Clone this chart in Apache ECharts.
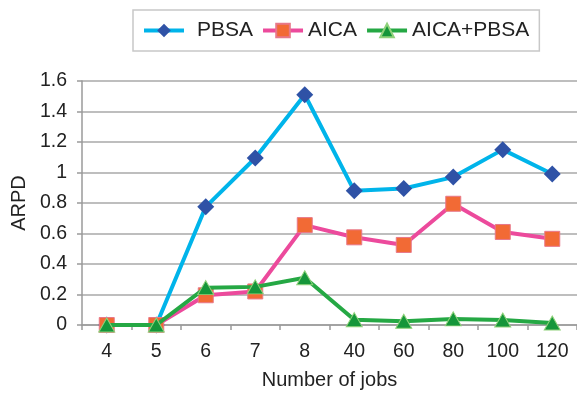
<!DOCTYPE html>
<html>
<head>
<meta charset="utf-8">
<script src="https://cdn.jsdelivr.net/npm/echarts@6/dist/echarts.min.js"></script>
<style>
  html, body { margin: 0; padding: 0; background: #fff; }
  #chart { width: 577px; height: 395px; }
</style>
</head>
<body>
<div id="chart"></div>
<script>
// Number of jobs on the category axis
const jobs = ['4', '5', '6', '7', '8', '40', '60', '80', '100', '120'];

// ARPD per algorithm
const pbsa = [0, 0, 0.775, 1.095, 1.51, 0.88, 0.895, 0.97, 1.15, 0.99];
const aica = [0, 0, 0.195, 0.22, 0.655, 0.575, 0.525, 0.795, 0.61, 0.565];
const aicaPbsa = [0, 0, 0.245, 0.25, 0.31, 0.035, 0.025, 0.04, 0.033, 0.013];

const yTicks = { min: 0, max: 1.6, interval: 0.2 };

const font = 'Liberation Sans, Arial, sans-serif';
const axisGray = '#9a9a9a';
const textColor = '#222';

const chart = echarts.init(document.getElementById('chart'));
chart.setOption({
  animation: false,
  textStyle: { fontFamily: font },
  legend: {
    top: 10,
    left: 133,
    padding: [10, 10, 10, 9],
    borderColor: '#c8c8c8',
    borderWidth: 1.5,
    itemWidth: 40,
    itemHeight: 17,
    itemGap: 8,
    lineStyle: { width: 4 },
    textStyle: { fontSize: 21, color: textColor, fontFamily: font },
    data: [
      { name: 'PBSA', textStyle: { padding: [0, 0, 0, 8] } },
      { name: 'AICA' },
      { name: 'AICA+PBSA' }
    ]
  },
  grid: { left: 82, right: -3, top: 81, bottom: 68 },
  xAxis: {
    type: 'category',
    data: jobs,
    name: 'Number of jobs',
    nameLocation: 'middle',
    nameGap: 45,
    nameTextStyle: { fontSize: 20, color: textColor, fontFamily: font },
    axisLine: { lineStyle: { color: axisGray, width: 1.5 } },
    axisTick: { show: true, length: 5, lineStyle: { color: axisGray, width: 1.5 } },
    axisLabel: { fontSize: 19.5, color: textColor, margin: 17, fontFamily: font }
  },
  yAxis: {
    type: 'value',
    min: yTicks.min,
    max: yTicks.max,
    interval: yTicks.interval,
    name: 'ARPD',
    nameLocation: 'middle',
    nameRotate: 90,
    nameGap: 53,
    nameTextStyle: { fontSize: 20, color: textColor, fontFamily: font },
    axisLine: { show: true, lineStyle: { color: axisGray, width: 1.5 } },
    axisTick: { show: true, length: 5, lineStyle: { color: axisGray, width: 1.5 } },
    splitLine: { lineStyle: { color: '#a8a8a8', width: 1.5 } },
    axisLabel: {
      fontSize: 19.5, color: textColor, margin: 15, fontFamily: font,
      formatter: v => String(Math.round(v * 10) / 10)
    }
  },
  series: [
    {
      name: 'PBSA',
      type: 'line',
      data: pbsa,
      symbol: 'diamond',
      symbolSize: [17, 17],
      lineStyle: { color: '#00b4ea', width: 4 },
      itemStyle: { color: '#2f52a6', borderColor: '#2f52a6', borderWidth: 0 },
      z: 2
    },
    {
      name: 'AICA',
      type: 'line',
      data: aica,
      symbol: 'rect',
      symbolSize: [15, 15],
      lineStyle: { color: '#ec4a9c', width: 4 },
      itemStyle: { color: '#f26a35', borderColor: '#e8788a', borderWidth: 1 },
      z: 3
    },
    {
      name: 'AICA+PBSA',
      type: 'line',
      data: aicaPbsa,
      symbol: 'triangle',
      symbolSize: [16, 14],
      lineStyle: { color: '#25a844', width: 4 },
      itemStyle: { color: '#15963a', borderColor: '#8fd27a', borderWidth: 1 },
      z: 4
    }
  ]
});
</script>
</body>
</html>
